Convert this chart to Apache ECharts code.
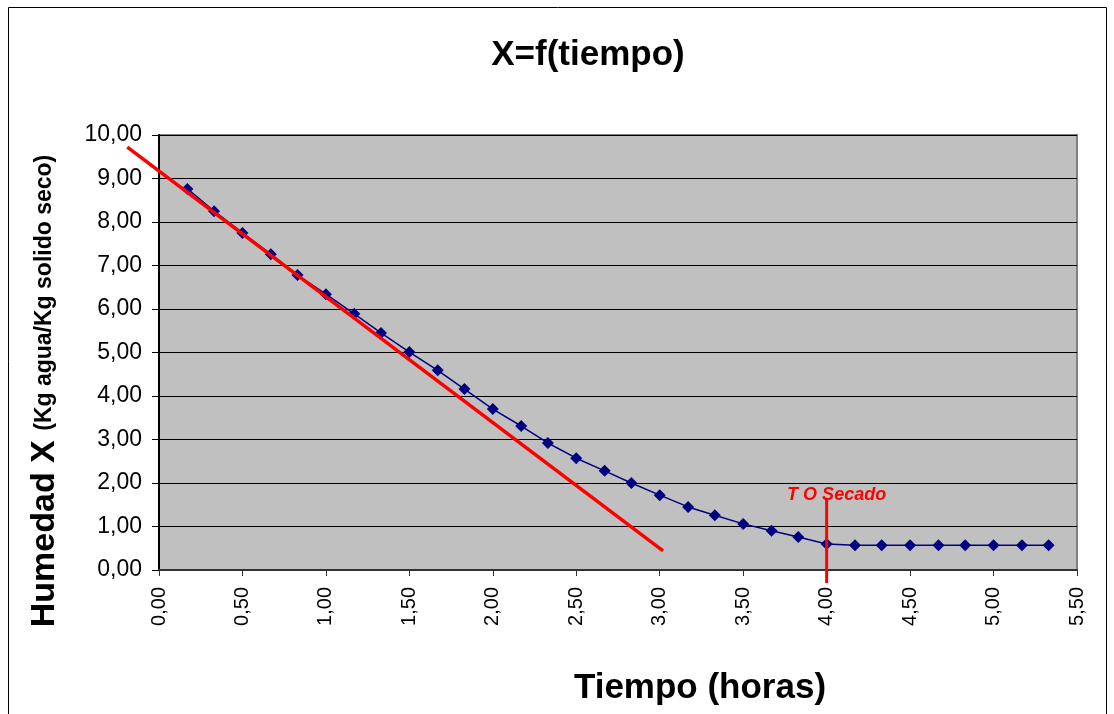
<!DOCTYPE html>
<html lang="es">
<head>
    <meta charset="UTF-8">
    <title>X=f(tiempo)</title>
    <script src="https://cdn.jsdelivr.net/npm/echarts@6.0.0/dist/echarts.min.js"></script>
    <style>
        * { margin: 0; padding: 0; box-sizing: border-box; }
        html, body { width: 100%; height: 100%; background: #fff; overflow: hidden; }
        #chart { width: 1114px; height: 714px; }
    </style>
</head>
<body>
    <div id="chart"></div>
    <script>
        // tiempo (horas) de cada medida
        const tiempo = [0.17, 0.33, 0.50, 0.67, 0.83, 1.00, 1.17, 1.33, 1.50, 1.67, 1.83,
            2.00, 2.17, 2.33, 2.50, 2.67, 2.83, 3.00, 3.17, 3.33, 3.50, 3.67, 3.83,
            4.00, 4.17, 4.33, 4.50, 4.67, 4.83, 5.00, 5.17, 5.33];
        // humedad X (Kg agua / Kg solido seco)
        const humedad = [8.76, 8.25, 7.75, 7.26, 6.78, 6.34, 5.89, 5.45, 5.01, 4.59, 4.16,
            3.70, 3.31, 2.92, 2.57, 2.28, 2.00, 1.72, 1.45, 1.26, 1.06, 0.90, 0.76,
            0.60, 0.57, 0.57, 0.57, 0.57, 0.57, 0.57, 0.57, 0.57];
        // recta del periodo de velocidad constante
        const rectaX = [-0.19, 3.02];
        const rectaY = [9.72, 0.44];
        // tiempo de secado
        const tSecadoX = [4.00, 4.00];
        const tSecadoY = [-0.30, 1.65];

        const FONT = '"Liberation Sans", Arial, sans-serif';
        const coma = v => v.toFixed(2).replace('.', ',');

        const chart = echarts.init(document.getElementById('chart'), null, { renderer: 'canvas' });

        const puntos = tiempo.map((t, i) => [t, humedad[i]]);
        const secado = tSecadoX.map((t, i) => [t, tSecadoY[i]]);
        // etiqueta en el extremo superior
        secado[1] = {
            value: secado[1],
            label: {
                show: true,
                formatter: 'T O Secado',
                position: 'top',
                distance: -6,
                offset: [10, 0],
                color: '#ff0000',
                fontFamily: FONT,
                fontSize: 18,
                fontWeight: 'bold',
                fontStyle: 'italic'
            }
        };

        const option = {
            animation: false,
            title: {
                text: 'X=f(tiempo)',
                left: 583,
                top: 33,
                textAlign: 'center',
                textStyle: { fontFamily: FONT, fontSize: 35, fontWeight: 'bold', color: '#000' }
            },
            grid: {
                left: 159, top: 135, right: 37, bottom: 144,
                show: true,
                backgroundColor: '#c0c0c0',
                borderColor: '#808080',
                borderWidth: 2
            },
            xAxis: {
                type: 'value',
                min: 0, max: 5.5, interval: 0.5,
                axisLine: { show: true, onZero: false, lineStyle: { color: '#333', width: 2 } },
                axisTick: { show: true, length: 6, lineStyle: { color: '#333', width: 1 } },
                axisLabel: {
                    rotate: 90, margin: 17,
                    formatter: coma,
                    fontFamily: FONT, fontSize: 20, color: '#000',
                    showMaxLabel: true, showMinLabel: true
                },
                splitLine: { show: false }
            },
            yAxis: {
                type: 'value',
                min: 0, max: 10, interval: 1,
                axisLine: { show: true, lineStyle: { color: '#000', width: 2 } },
                axisTick: { show: true, length: 7, lineStyle: { color: '#000', width: 1 } },
                axisLabel: {
                    margin: 17,
                    formatter: coma,
                    fontFamily: FONT, fontSize: 23, color: '#000'
                },
                splitLine: { show: true, lineStyle: { color: '#000', width: 1 } }
            },
            graphic: [
                {
                    id: 'marco',
                    type: 'rect',
                    shape: { x: 8.5, y: 7.5, width: 1098, height: 720 },
                    style: { fill: 'none', stroke: '#000', lineWidth: 1 },
                    silent: true
                },
                {
                    id: 'ytitulo',
                    type: 'text',
                    x: 62, y: 391,
                    rotation: Math.PI / 2,
                    style: {
                        text: '{a|Humedad X }{b|(Kg agua/Kg solido seco)}',
                        textAlign: 'center',
                        textVerticalAlign: 'bottom',
                        fill: '#000',
                        rich: {
                            a: { fontFamily: FONT, fontSize: 34, fontWeight: 'bold', fill: '#000' },
                            b: { fontFamily: FONT, fontSize: 23, fontWeight: 'bold', fill: '#000' }
                        }
                    }
                },
                {
                    id: 'xtitulo',
                    type: 'text',
                    x: 700, y: 688,
                    style: {
                        text: 'Tiempo (horas)',
                        textAlign: 'center',
                        textVerticalAlign: 'middle',
                        fontFamily: FONT, fontSize: 35, fontWeight: 'bold',
                        fill: '#000'
                    }
                }
            ],
            series: [
                {
                    name: 'X',
                    type: 'line',
                    data: puntos,
                    symbol: 'diamond',
                    symbolSize: 12,
                    lineStyle: { color: '#000080', width: 1.5 },
                    itemStyle: { color: '#000080' },
                    z: 2
                },
                {
                    name: 'T O Secado',
                    type: 'line',
                    data: secado,
                    clip: false,
                    symbol: 'circle',
                    symbolSize: 1,
                    itemStyle: { color: 'transparent' },
                    lineStyle: { color: '#ff0000', width: 3 },
                    z: 4
                }
            ]
        };

        chart.setOption(option);

        // la recta sale del area del grafico por la izquierda: se dibuja con la escala del eje
        const p0 = chart.convertToPixel({ gridIndex: 0 }, [rectaX[0], rectaY[0]]);
        const p1 = chart.convertToPixel({ gridIndex: 0 }, [rectaX[1], rectaY[1]]);
        chart.setOption({
            graphic: [{
                id: 'recta',
                type: 'line',
                shape: { x1: p0[0], y1: p0[1], x2: p1[0], y2: p1[1] },
                style: { stroke: '#ff0000', lineWidth: 3.5 },
                z: 10,
                silent: true
            }]
        });
    </script>
</body>
</html>
